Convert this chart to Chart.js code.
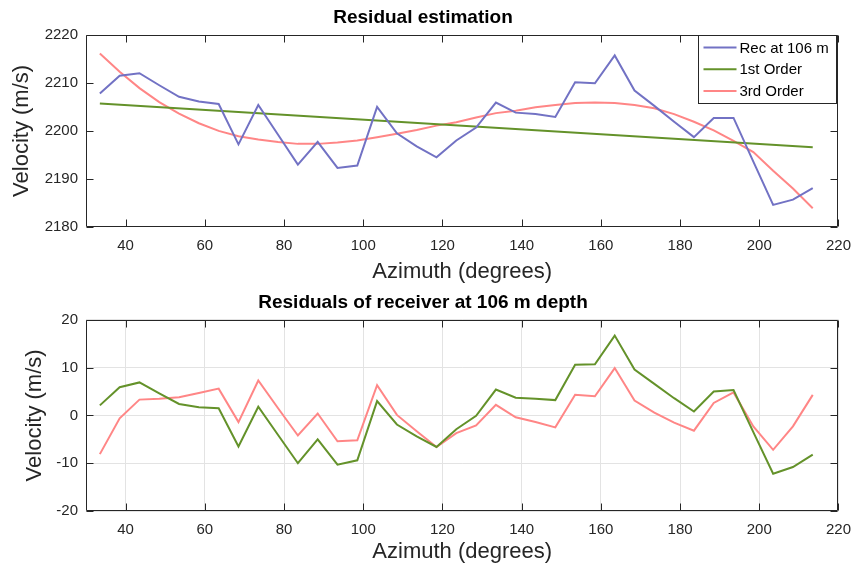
<!DOCTYPE html>
<html>
<head>
<meta charset="utf-8">
<script src="https://cdn.jsdelivr.net/npm/chart.js@4.4.0/dist/chart.umd.min.js"></script>
<style>
  html, body { margin: 0; padding: 0; background: #fff; }
  #wrap { position: relative; width: 861px; height: 569px; }
  .pane { position: absolute; left: 0; width: 861px; }
</style>
</head>
<body>
<div id="wrap">
  <div class="pane" style="top:0;height:285px"><canvas id="estChart"></canvas></div>
  <div class="pane" style="top:285px;height:284px"><canvas id="resChart"></canvas></div>
</div>
<script>
// ===== DATA =====
const azimuth = [33.5, 38.5, 43.5, 48.5, 53.5, 58.5, 63.5, 68.5, 73.5, 78.5, 83.5, 88.5, 93.5, 98.5, 103.5,
  108.5, 113.5, 118.5, 123.5, 128.5, 133.5, 138.5, 143.5, 148.5, 153.5, 158.5, 163.5, 168.5, 173.5,
  178.5, 183.5, 188.5, 193.5, 198.5, 203.5, 208.5, 213.5];
const recVelocity = [2207.8, 2211.5, 2212.0, 2209.5, 2207.1, 2206.1, 2205.6, 2197.2, 2205.4, 2199.2, 2193.0,
  2197.7, 2192.3, 2192.8, 2205.0, 2199.5, 2196.8, 2194.5, 2198.0, 2200.7, 2205.9, 2203.8, 2203.5, 2202.9,
  2210.1, 2209.9, 2215.7, 2208.4, 2205.2, 2201.9, 2198.7, 2202.7, 2202.7, 2193.6, 2184.6, 2185.7, 2188.1];
const firstOrderAz = [33.5, 213.5];
const firstOrderFit = [2205.7, 2196.6];
const thirdOrderFit = [2216.1, 2212.3, 2208.9, 2206.0, 2203.6, 2201.6, 2200.0, 2198.9, 2198.2, 2197.7, 2197.3,
  2197.3, 2197.6, 2198.0, 2198.7, 2199.4, 2200.2, 2201.1, 2201.8, 2202.8, 2203.7, 2204.2, 2204.9, 2205.4,
  2205.8, 2205.9, 2205.8, 2205.4, 2204.7, 2203.5, 2201.9, 2200.1, 2197.9, 2195.6, 2191.7, 2188.0, 2183.9];
const resid1st = [2.1, 5.9, 6.9, 4.6, 2.4, 1.7, 1.5, -6.5, 1.8, -4.1, -10.0, -5.0, -10.3, -9.4, 3.0, -1.9,
  -4.4, -6.6, -2.9, -0.1, 5.4, 3.7, 3.5, 3.2, 10.6, 10.7, 16.7, 9.6, 6.6, 3.6, 0.8, 5.0, 5.3, -3.5, -12.2,
  -10.8, -8.2];
const resid3rd = [-8.1, -0.6, 3.3, 3.5, 3.8, 4.7, 5.6, -1.4, 7.3, 1.5, -4.2, 0.4, -5.4, -5.2, 6.3, 0.1,
  -3.3, -6.6, -3.7, -2.1, 2.2, -0.4, -1.4, -2.5, 4.3, 4.0, 9.9, 3.1, 0.6, -1.5, -3.2, 2.6, 4.8, -2.3, -7.2,
  -2.3, 4.3];
const xTicks = [40, 60, 80, 100, 120, 140, 160, 180, 200, 220];
const estTicks = [2180, 2190, 2200, 2210, 2220];
const resTicks = [-20, -10, 0, 10, 20];
const seriesNames = ['Rec at 106 m', '1st Order', '3rd Order'];

const BLUE = '#7272c4';
const GREEN = '#64922a';
const PINK = '#ff8686';
const FONT = '"Liberation Sans", Arial, Helvetica, sans-serif';
const INK = '#262626';

const pts = (xs, ys) => xs.map((x, i) => ({ x, y: ys[i] }));

// ===== MATLAB STYLE BOX + INWARD TICKS =====
const boxAxes = {
  id: 'boxAxes',
  afterDatasetsDraw(chart) {
    const { ctx, chartArea: a, scales: { x, y } } = chart;
    const L = Math.round(a.left) + 0.5, R = Math.round(a.right) - 0.5;
    const T = Math.round(a.top) + 0.5, B = Math.round(a.bottom) - 0.5;
    ctx.save();
    ctx.strokeStyle = INK;
    ctx.lineWidth = 1;
    ctx.beginPath();
    x.ticks.forEach(t => {
      const px = Math.round(x.getPixelForValue(t.value)) + 0.5;
      ctx.moveTo(px, T); ctx.lineTo(px, T + 7);
      ctx.moveTo(px, B); ctx.lineTo(px, B - 7);
    });
    y.ticks.forEach(t => {
      const py = Math.round(y.getPixelForValue(t.value)) + 0.5;
      ctx.moveTo(L, py); ctx.lineTo(L + 7, py);
      ctx.moveTo(R, py); ctx.lineTo(R - 7, py);
    });
    ctx.rect(L, T, R - L, B - T);
    ctx.stroke();
    ctx.restore();
  }
};

// ===== LEGEND INSIDE TOP RIGHT =====
const boxLegend = {
  id: 'boxLegend',
  afterDraw(chart) {
    if (chart.canvas.id !== 'estChart') return;
    const { ctx, chartArea: a } = chart;
    const R = Math.round(a.right) - 1.5, T = Math.round(a.top) + 0.5;
    const L = R - 138, B = T + 68;
    ctx.save();
    ctx.fillStyle = '#fff';
    ctx.fillRect(L, T, R - L, B - T);
    ctx.strokeStyle = INK;
    ctx.lineWidth = 1;
    ctx.strokeRect(L, T, R - L, B - T);
    const colors = [BLUE, GREEN, PINK];
    ctx.font = '15px ' + FONT;
    ctx.textBaseline = 'middle';
    seriesNames.forEach((name, i) => {
      const yy = T + 12 + i * 21.8;
      ctx.strokeStyle = colors[i];
      ctx.lineWidth = 2;
      ctx.beginPath();
      ctx.moveTo(L + 5, yy); ctx.lineTo(L + 38, yy);
      ctx.stroke();
      ctx.fillStyle = '#000';
      ctx.fillText(name, L + 41, yy + 1);
    });
    ctx.restore();
  }
};

function axesOptions(title, yTicks, showGrid, xBottomPad, yTitlePad) {
  return {
    responsive: true,
    maintainAspectRatio: false,
    animation: false,
    layout: { padding: { left: 0, right: 15, top: 0, bottom: 0 } },
    plugins: {
      legend: { display: false },
      tooltip: { enabled: false },
      title: {
        display: true, text: title, color: '#000',
        font: { family: FONT, size: 19, weight: 'bold', lineHeight: 1.2 },
        padding: { top: 6, bottom: 6 }
      }
    },
    elements: { point: { radius: 0 }, line: { tension: 0, borderWidth: 2 } },
    scales: {
      x: {
        type: 'linear', min: 30, max: 220,
        afterBuildTicks: s => { s.ticks = xTicks.map(v => ({ value: v })); },
        afterFit: s => { s.height = 58; },
        grid: { display: showGrid, color: '#e3e3e3', drawTicks: false },
        border: { display: false },
        ticks: { color: INK, padding: 10, font: { family: FONT, size: 15 }, maxRotation: 0, callback: v => String(v) },
        title: { display: true, text: 'Azimuth (degrees)', color: INK, padding: { top: 0, bottom: xBottomPad }, font: { family: FONT, size: 22, lineHeight: 1.2 } }
      },
      y: {
        type: 'linear', min: yTicks[0], max: yTicks[yTicks.length - 1],
        afterBuildTicks: s => { s.ticks = yTicks.map(v => ({ value: v })); },
        afterFit: s => { s.width = 86; },
        grid: { display: showGrid, color: '#e3e3e3', drawTicks: false },
        border: { display: false },
        ticks: { color: INK, padding: 8, font: { family: FONT, size: 15 }, callback: v => String(v) },
        title: { display: true, text: 'Velocity (m/s)', color: INK, padding: { top: yTitlePad, bottom: 0 }, font: { family: FONT, size: 22, lineHeight: 1.2 } }
      }
    }
  };
}

// ===== TOP: RESIDUAL ESTIMATION =====
new Chart(document.getElementById('estChart'), {
  type: 'line',
  data: {
    datasets: [
      { label: seriesNames[0], data: pts(azimuth, recVelocity), borderColor: BLUE },
      { label: seriesNames[1], data: pts(firstOrderAz, firstOrderFit), borderColor: GREEN },
      { label: seriesNames[2], data: pts(azimuth, thirdOrderFit), borderColor: PINK }
    ]
  },
  options: axesOptions('Residual estimation', estTicks, false, 0, 9),
  plugins: [boxAxes, boxLegend]
});

// ===== BOTTOM: RESIDUALS =====
new Chart(document.getElementById('resChart'), {
  type: 'line',
  data: {
    datasets: [
      { label: '1st Order residual', data: pts(azimuth, resid1st), borderColor: GREEN },
      { label: '3rd Order residual', data: pts(azimuth, resid3rd), borderColor: PINK }
    ]
  },
  options: axesOptions('Residuals of receiver at 106 m depth', resTicks, true, 4, 22),
  plugins: [boxAxes]
});
</script>
</body>
</html>
